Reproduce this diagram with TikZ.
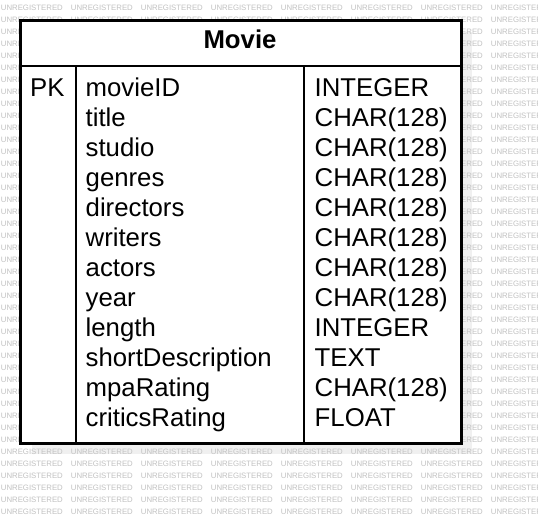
\documentclass[tikz,border=0pt]{standalone}
\usepackage{fontspec}
\setmainfont{Liberation Sans}
\definecolor{wmgray}{RGB}{194,194,194}
\definecolor{shadowgray}{RGB}{240,240,240}
\tikzset{
  wm/.style={inner sep=0pt, anchor=base west, text=wmgray, font=\fontsize{7.8}{8}\selectfont},
  cell/.style={inner sep=0pt, anchor=base west, font=\fontsize{25.75}{30}\selectfont},
  title/.style={inner sep=0pt, anchor=base, font=\fontsize{25.75}{30}\selectfont\bfseries},
  border/.style={line width=2pt, draw=black},
}
\begin{document}
\begin{tikzpicture}[x=1pt,y=-1pt]
\useasboundingbox (0,0) rectangle (538,522);
\fill[white] (0,0) rectangle (538,522);
% shadow
\fill[shadowgray] (32,32) rectangle (472,454);
% watermark
\foreach \r in {0,...,42}{
  \foreach \c in {0,...,7}{
    \node[wm] (wm-\r-\c) at ({0.7+70*\c},{10.8+12*\r}) {UNREGISTERED};
  }
}
% table
\node[draw=black, line width=2pt, fill=white, minimum width=440pt, minimum height=422pt, inner sep=0pt, anchor=north west] (box) at (20,20) {};
\coordinate (hl) at (20,66);
\coordinate (hr) at (460,66);
\coordinate (d1t) at (76,66);
\coordinate (d1b) at (76,442);
\coordinate (d2t) at (304,66);
\coordinate (d2b) at (304,442);
\draw[border] (hl) -- (hr);
\draw[border] (d1t) -- (d1b);
\draw[border] (d2t) -- (d2b);
\draw[border] (box.north west) rectangle (box.south east);
\node[title] (ttl) at (240,48.5) {Movie};
\node[cell] (pk) at (30,96.5) {PK};
\foreach \n/\t [count=\i from 0] in {movieID/INTEGER, title/CHAR(128), studio/CHAR(128), genres/CHAR(128), directors/CHAR(128), writers/CHAR(128), actors/CHAR(128), year/CHAR(128), length/INTEGER, shortDescription/TEXT, mpaRating/CHAR(128), criticsRating/FLOAT}{
  \node[cell] (name-\i) at (85.5,{96.5+30*\i}) {\n};
  \node[cell] (type-\i) at (314.5,{96.5+30*\i}) {\t};
}
\end{tikzpicture}
\end{document}
